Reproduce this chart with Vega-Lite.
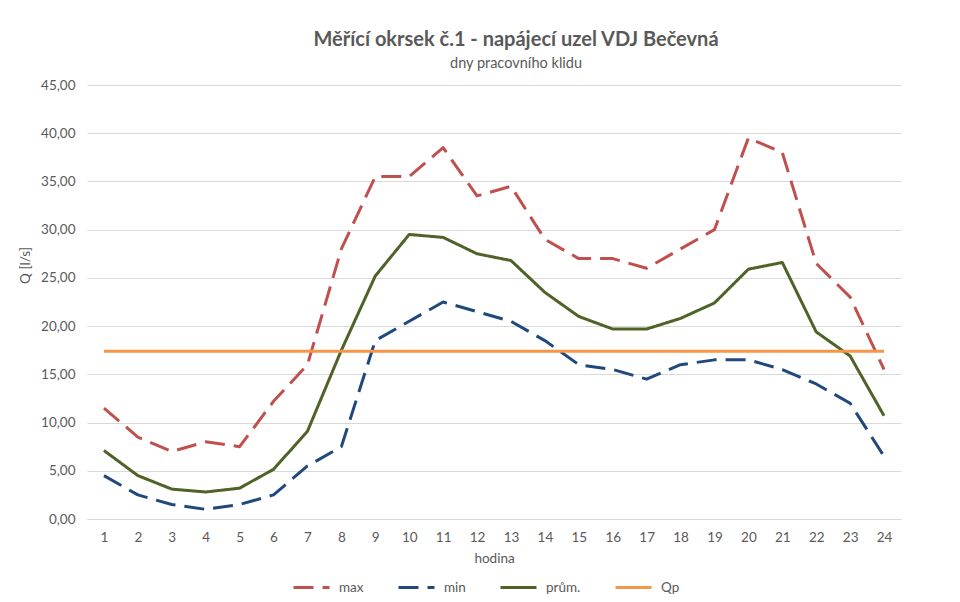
{
  "$schema": "https://vega.github.io/schema/vega-lite/v6.json",
  "width": 814,
  "height": 434,
  "autosize": {"type": "none"},
  "padding": {"left": 87, "top": 85, "right": 59, "bottom": 83},
  "background": "white",
  "config": {
    "locale": {"number": {"decimal": ",", "thousands": " ", "grouping": [3], "currency": ["", " Kč"]}},
    "view": {"stroke": null},
    "font": "Lato"
  },
  "title": {
    "text": "Měřící okrsek č.1 - napájecí uzel VDJ Bečevná",
    "subtitle": "dny pracovního klidu",
    "fontSize": 20,
    "fontWeight": "bold",
    "color": "#595959",
    "subtitleFontSize": 14.5,
    "subtitleColor": "#595959",
    "subtitlePadding": 7,
    "anchor": "middle",
    "dx": 22,
    "offset": 8
  },
  "data": {
    "values": [
      {"hodina": 1, "max": 11.5, "min": 4.5, "prum": 7.1, "Qp": 17.4},
      {"hodina": 2, "max": 8.5, "min": 2.5, "prum": 4.5, "Qp": 17.4},
      {"hodina": 3, "max": 7.0, "min": 1.5, "prum": 3.1, "Qp": 17.4},
      {"hodina": 4, "max": 8.0, "min": 1.0, "prum": 2.8, "Qp": 17.4},
      {"hodina": 5, "max": 7.5, "min": 1.5, "prum": 3.2, "Qp": 17.4},
      {"hodina": 6, "max": 12.2, "min": 2.5, "prum": 5.15, "Qp": 17.4},
      {"hodina": 7, "max": 16.0, "min": 5.5, "prum": 9.1, "Qp": 17.4},
      {"hodina": 8, "max": 28.0, "min": 7.5, "prum": 17.5, "Qp": 17.4},
      {"hodina": 9, "max": 35.5, "min": 18.5, "prum": 25.2, "Qp": 17.4},
      {"hodina": 10, "max": 35.5, "min": 20.5, "prum": 29.5, "Qp": 17.4},
      {"hodina": 11, "max": 38.5, "min": 22.5, "prum": 29.2, "Qp": 17.4},
      {"hodina": 12, "max": 33.5, "min": 21.5, "prum": 27.5, "Qp": 17.4},
      {"hodina": 13, "max": 34.5, "min": 20.5, "prum": 26.8, "Qp": 17.4},
      {"hodina": 14, "max": 29.0, "min": 18.5, "prum": 23.5, "Qp": 17.4},
      {"hodina": 15, "max": 27.0, "min": 16.0, "prum": 21.0, "Qp": 17.4},
      {"hodina": 16, "max": 27.0, "min": 15.5, "prum": 19.7, "Qp": 17.4},
      {"hodina": 17, "max": 26.0, "min": 14.5, "prum": 19.7, "Qp": 17.4},
      {"hodina": 18, "max": 28.0, "min": 16.0, "prum": 20.8, "Qp": 17.4},
      {"hodina": 19, "max": 30.0, "min": 16.5, "prum": 22.4, "Qp": 17.4},
      {"hodina": 20, "max": 39.5, "min": 16.5, "prum": 25.9, "Qp": 17.4},
      {"hodina": 21, "max": 38.0, "min": 15.5, "prum": 26.6, "Qp": 17.4},
      {"hodina": 22, "max": 26.5, "min": 14.0, "prum": 19.4, "Qp": 17.4},
      {"hodina": 23, "max": 23.0, "min": 12.0, "prum": 16.9, "Qp": 17.4},
      {"hodina": 24, "max": 15.5, "min": 6.5, "prum": 10.7, "Qp": 17.4}
    ]
  },
  "transform": [{"fold": ["max", "min", "prum", "Qp"], "as": ["serie", "Q"]}],
  "mark": {"type": "line", "strokeWidth": 3, "strokeJoin": "round"},
  "encoding": {
    "x": {
      "field": "hodina",
      "type": "ordinal",
      "scale": {"type": "point", "padding": 0.5},
      "axis": {
        "labelAngle": 0,
        "ticks": false,
        "domain": true,
        "domainColor": "#d9d9d9",
        "grid": false,
        "labelColor": "#595959",
        "labelFontSize": 13.5,
        "labelPadding": 11,
        "title": "hodina",
        "titleColor": "#595959",
        "titleFontSize": 13.5,
        "titleFontWeight": "normal",
        "titlePadding": 8
      }
    },
    "y": {
      "field": "Q",
      "type": "quantitative",
      "scale": {"domain": [0, 45]},
      "axis": {
        "values": [0, 5, 10, 15, 20, 25, 30, 35, 40, 45],
        "format": ".2f",
        "domain": false,
        "ticks": false,
        "grid": true,
        "gridColor": "#d9d9d9",
        "gridWidth": 1,
        "labelColor": "#595959",
        "labelFontSize": 13.5,
        "labelPadding": 12,
        "title": "Q [l/s]",
        "titleColor": "#595959",
        "titleFontSize": 13.5,
        "titleFontWeight": "normal",
        "titleAngle": 270,
        "titleAlign": "center",
        "titleBaseline": "middle",
        "titleX": -62,
        "titleY": 180
      }
    },
    "color": {
      "field": "serie",
      "type": "nominal",
      "scale": {"domain": ["max", "min", "prum", "Qp"], "range": ["#C0504D", "#1F497D", "#4F6228", "#F79646"]},
      "legend": {
        "title": null,
        "orient": "none",
        "direction": "horizontal",
        "legendX": 205,
        "legendY": 483,
        "symbolType": "stroke",
        "symbolSize": 1296,
        "symbolStrokeWidth": 3,
        "labelFontSize": 13.5,
        "labelColor": "#595959",
        "labelOffset": 8,
        "columnPadding": 28,
        "labelExpr": "datum.label == 'prum' ? 'prům.' : datum.label",
        "encode": {
          "symbols": {
            "update": {
              "strokeDash": {"signal": "datum.value == 'max' || datum.value == 'min' ? [24, 14] : [1, 0]"}
            }
          }
        }
      }
    },
    "strokeDash": {
      "field": "serie",
      "type": "nominal",
      "scale": {"domain": ["max", "min", "prum", "Qp"], "range": [[20, 9], [20, 9], [1, 0], [1, 0]]},
      "legend": null
    }
  }
}
